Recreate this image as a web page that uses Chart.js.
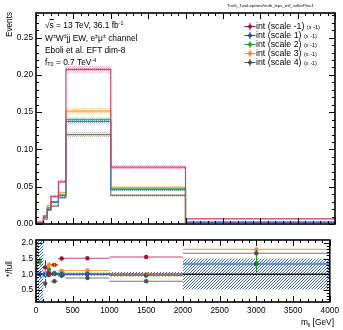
<!DOCTYPE html>
<html>
<head>
<meta charset="utf-8">
<script src="https://cdn.jsdelivr.net/npm/chart.js@4.4.1/dist/chart.umd.min.js"></script>
<style>
  html, body { margin: 0; padding: 0; background: #fff; }
  #wrap { position: relative; width: 343px; height: 330px; overflow: hidden;
          font-family: "Liberation Sans", Arial, Helvetica, sans-serif; color: #000; }
  #wrap canvas { position: absolute; left: 0; }
  #events { top: 0; }
  #ratio { top: 232px; }
  .txt { position: absolute; white-space: nowrap; line-height: 10px; }
  .txt sup, .txt sub { font-size: 64%; position: relative; vertical-align: baseline; line-height: 0; }
  .txt sup { top: -0.55em; }
  .txt sub { top: 0.35em; }
  .ovl { text-decoration: overline; }
  .leg { position: absolute; left: 244px; white-space: nowrap; font-size: 8.8px; line-height: 10px; }
  .leg svg { position: absolute; left: 0; top: 1px; }
  .leg span.t { position: absolute; left: 12px; top: 0; }
  .leg small { font-size: 5.6px; }
</style>
</head>
<body>
<div id="wrap">
  <canvas id="events" width="343" height="232"></canvas>
  <canvas id="ratio" width="343" height="98"></canvas>

  <div class="txt" style="left:45px;top:20px;font-size:8.4px;">√<span class="ovl">s</span> = 13 TeV, 36.1 fb<sup>-1</sup></div>
  <div class="txt" style="left:45px;top:32.5px;font-size:8.4px;">W<sup>±</sup>W<sup>±</sup>jj EW, e<sup>±</sup>μ<sup>±</sup> channel</div>
  <div class="txt" style="left:45px;top:44.5px;font-size:8.4px;">Eboli et al. EFT dim-8</div>
  <div class="txt" style="left:45px;top:56.5px;font-size:8.4px;">f<sub>T0</sub> = 0.7 TeV<sup>-4</sup></div>

  <div id="legend"></div>

  <div class="txt" style="left:5px;top:37px;font-size:8.2px;transform:rotate(-90deg);transform-origin:0 0;">Events</div>
  <div class="txt" style="left:5px;top:277px;font-size:8.2px;transform:rotate(-90deg);transform-origin:0 0;">*/full</div>
  <div class="txt" style="right:9px;top:317px;font-size:8.4px;">m<sub>ll</sub> [GeV]</div>
</div>

<script>
// ---- binning and axis ticks ----
const binEdges = [0, 100, 150, 200, 300, 400, 1000, 2000, 4000];
const binCenters = [50, 125, 175, 250, 350, 700, 1500, 3000];
const massTicks = [0, 500, 1000, 1500, 2000, 2500, 3000, 3500, 4000];
const eventsTicks = [0, 0.05, 0.10, 0.15, 0.20, 0.25];
const ratioTicks = [0.5, 1.0, 1.5, 2.0];

// ---- series labels and colours ----
const seriesNames = ['int (scale -1)', 'int (scale 1)', 'int (scale 2)', 'int (scale 3)', 'int (scale 4)'];
const seriesScaleNote = '(x -1)';
const markerColors = ['#a3103d', '#1f4cb3', '#2b9a2b', '#ff8a1c', '#505050'];
const lineColors = ['#c9457a', '#4a74cf', '#4fae4f', '#ffa345', '#7a7a72'];

// ---- events per bin (top panel) ----
const eventsScaleM1 = [0.0020, 0.0110, 0.0195, 0.0370, 0.0566, 0.2075, 0.0763, 0.0070];
const eventsScale1  = [0.0020, 0.0090, 0.0200, 0.0290, 0.0380, 0.1375, 0.0460, 0.0022];
const eventsScale2  = [0.0028, 0.0090, 0.0220, 0.0300, 0.0390, 0.1400, 0.0470, 0.0021];
const eventsScale3  = [0.0020, 0.0095, 0.0250, 0.0365, 0.0420, 0.1515, 0.0490, 0.0027];
const eventsScale4  = [0.0015, 0.0065, 0.0186, 0.0240, 0.0355, 0.1200, 0.0385, 0.0025];

// statistical uncertainty per bin
const errScaleM1 = [0.0008, 0.0012, 0.0016, 0.0020, 0.0024, 0.0042, 0.0024, 0.0009];
const errScale1  = [0.0007, 0.0010, 0.0014, 0.0017, 0.0020, 0.0036, 0.0020, 0.0007];
const errScale2  = [0.0007, 0.0010, 0.0014, 0.0017, 0.0020, 0.0036, 0.0020, 0.0007];
const errScale3  = [0.0007, 0.0010, 0.0015, 0.0018, 0.0021, 0.0037, 0.0021, 0.0007];
const errScale4  = [0.0006, 0.0009, 0.0013, 0.0016, 0.0019, 0.0034, 0.0019, 0.0007];

// ---- ratio to full (bottom panel) ----
const ratioScaleM1 = [null, 1.22, 1.03, 1.30, 1.50, 1.51, 1.55, null];
const ratioScale1  = [1.00, 1.00, 1.05, 1.02, 1.00, 1.00, 0.97, 1.32];
const ratioScale2  = [1.40, 0.98, 1.15, 1.04, 1.03, 1.03, 0.96, 1.35];
const ratioScale3  = [null, 1.05, 1.30, 1.30, 1.11, 1.12, 1.00, 1.79];
const ratioScale4  = [null, 0.71, 0.98, 0.78, 0.95, 0.88, 0.78, 1.67];

const ratioErrM1 = [0, 0.22, 0.08, 0.06, 0.04, 0.02, 0.03, 0];
const ratioErr1  = [0.10, 0.10, 0.07, 0.05, 0.03, 0.02, 0.03, 0.20];
const ratioErr2  = [0.10, 0.10, 0.07, 0.05, 0.03, 0.02, 0.03, 0.30];
const ratioErr3  = [0, 0.10, 0.08, 0.06, 0.03, 0.02, 0.03, 0.06];
const ratioErr4  = [0, 0.14, 0.07, 0.05, 0.03, 0.02, 0.03, 0.10];

// uncertainty band of the full sample
const fullBandLow  = [0.12, 0.92, 0.93, 0.93, 0.94, 0.95, 0.93, 0.52];
const fullBandHigh = [2.09, 1.08, 1.07, 1.07, 1.06, 1.05, 1.07, 1.50];

const eventsSeries = [eventsScaleM1, eventsScale1, eventsScale2, eventsScale3, eventsScale4];
const errSeries = [errScaleM1, errScale1, errScale2, errScale3, errScale4];
const ratioSeries = [ratioScaleM1, ratioScale1, ratioScale2, ratioScale3, ratioScale4];
const ratioErrSeries = [ratioErrM1, ratioErr1, ratioErr2, ratioErr3, ratioErr4];

const FONT = '"Liberation Sans", Arial, Helvetica, sans-serif';

// ---- helpers ----
function histPoints(vals, fromZero) {
  const pts = fromZero ? [{ x: binEdges[0], y: 0 }] : [];
  vals.forEach((v, i) => pts.push({ x: binEdges[i], y: v }));
  pts.push({ x: binEdges[binEdges.length - 1], y: vals[vals.length - 1] });
  return pts;
}

function binSegments(vals) {
  const pts = [];
  vals.forEach((v, i) => {
    if (v === null) return;
    pts.push({ x: binEdges[i], y: v }, { x: binEdges[i + 1], y: v }, { x: binEdges[i + 1], y: null });
  });
  return pts;
}

function dotPattern(hex, alphaA, alphaB) {
  const c = document.createElement('canvas');
  c.width = 2; c.height = 2;
  const g = c.getContext('2d');
  const r = parseInt(hex.slice(1, 3), 16), gg = parseInt(hex.slice(3, 5), 16), b = parseInt(hex.slice(5, 7), 16);
  g.fillStyle = `rgba(${r},${gg},${b},${alphaA})`;
  g.fillRect(0, 0, 1, 1);
  g.fillStyle = `rgba(${r},${gg},${b},${alphaB})`;
  g.fillRect(1, 1, 1, 1);
  return g.createPattern(c, 'repeat');
}

function hatchPattern(hex) {
  const c = document.createElement('canvas');
  c.width = 3; c.height = 3;
  const g = c.getContext('2d');
  g.fillStyle = 'rgba(255,255,255,0)';
  g.fillRect(0, 0, 3, 3);
  g.fillStyle = hex;
  g.fillRect(2, 0, 1, 1);
  g.fillRect(1, 1, 1, 1);
  g.fillRect(0, 2, 1, 1);
  return g.createPattern(c, 'repeat');
}

// frame with inward major/minor ticks on all four sides
const frameTicks = {
  id: 'frameTicks',
  afterDatasetsDraw(chart, args, o) {
    const { ctx, chartArea: a, scales: { x, y } } = chart;
    ctx.save();
    ctx.strokeStyle = '#000';
    ctx.lineWidth = 1;
    ctx.beginPath();
    const nx = Math.round((x.max - x.min) / o.xMinor);
    for (let i = 0; i <= nx; i++) {
      const v = x.min + i * o.xMinor;
      const major = Math.abs(v / o.xMajor - Math.round(v / o.xMajor)) < 1e-6;
      const len = major ? o.xMajorLen : o.xMinorLen;
      const px = Math.round(x.getPixelForValue(v)) + 0.5;
      ctx.moveTo(px, a.bottom); ctx.lineTo(px, a.bottom - len);
      ctx.moveTo(px, a.top); ctx.lineTo(px, a.top + len);
    }
    const y0 = Math.ceil(y.min / o.yMinor - 1e-6) * o.yMinor;
    for (let v = y0; v <= y.max + 1e-9; v += o.yMinor) {
      const major = Math.abs(v / o.yMajor - Math.round(v / o.yMajor)) < 1e-6;
      const len = major ? o.yMajorLen : o.yMinorLen;
      const py = Math.round(y.getPixelForValue(v)) + 0.5;
      ctx.moveTo(a.left, py); ctx.lineTo(a.left + len, py);
      ctx.moveTo(a.right, py); ctx.lineTo(a.right - len, py);
    }
    ctx.stroke();
    ctx.lineWidth = 1.6;
    ctx.strokeRect(a.left, a.top, a.right - a.left, a.bottom - a.top);
    if (o.title) {
      ctx.fillStyle = '#000';
      ctx.font = '4.3px ' + FONT;
      ctx.textAlign = 'left';
      ctx.textBaseline = 'middle';
      ctx.fillText(o.title, 227, 6);
    }
    ctx.restore();
  }
};

// vertical error bars on the ratio markers
const ratioErrorBars = {
  id: 'ratioErrorBars',
  afterDatasetsDraw(chart) {
    const { ctx, scales: { x, y } } = chart;
    ctx.save();
    chart.data.datasets.forEach(ds => {
      if (!ds.errs) return;
      ctx.strokeStyle = ds.borderColor;
      ctx.lineWidth = 1;
      ds.data.forEach((p, i) => {
        const e = ds.errs[i];
        if (!e) return;
        const px = Math.round(x.getPixelForValue(p.x)) + 0.5;
        ctx.beginPath();
        ctx.moveTo(px, y.getPixelForValue(p.y - e));
        ctx.lineTo(px, y.getPixelForValue(p.y + e));
        ctx.stroke();
      });
    });
    ctx.restore();
  }
};

Chart.defaults.font.family = FONT;
Chart.defaults.color = '#000';

// ---- top panel: event yields ----
const topSets = [];
eventsSeries.forEach((vals, s) => {
  const lo = vals.map((v, i) => v - errSeries[s][i]);
  const hi = vals.map((v, i) => v + errSeries[s][i]);
  topSets.push({
    data: histPoints(lo, false), stepped: true, borderWidth: 0, pointRadius: 0,
    fill: false, order: 20 + s
  });
  topSets.push({
    data: histPoints(hi, false), stepped: true, borderWidth: 0, pointRadius: 0,
    fill: '-1', backgroundColor: dotPattern(lineColors[s], 0.55, 0.3), order: 20 + s
  });
});
eventsSeries.forEach((vals, s) => {
  topSets.push({
    label: seriesNames[s], data: histPoints(vals, true), stepped: true,
    borderColor: lineColors[s], borderWidth: 1.2, pointRadius: 0, fill: false, order: 1 + s
  });
});

new Chart(document.getElementById('events'), {
  type: 'line',
  data: { datasets: topSets },
  options: {
    responsive: false, animation: false, devicePixelRatio: 1,
    layout: { padding: { left: 0, right: 8, top: 13, bottom: 4 } },
    plugins: {
      legend: { display: false }, tooltip: { enabled: false },
      frameTicks: { xMinor: 100, xMajor: 500, xMajorLen: 6, xMinorLen: 3,
                    yMinor: 0.01, yMajor: 0.05, yMajorLen: 6, yMinorLen: 3,
                    title: 'Truth_TwoLeptons/truth_leps_mll_sellerPlus1' }
    },
    scales: {
      x: { type: 'linear', min: 0, max: 4000, display: false },
      y: {
        type: 'linear', min: 0, max: 0.283,
        grid: { display: false, drawTicks: false }, border: { display: false },
        afterFit: s => { s.width = 36; },
        afterBuildTicks: s => { s.ticks = eventsTicks.map(v => ({ value: v })); },
        ticks: { padding: 3, font: { size: 8.3 }, callback: v => v.toFixed(2) }
      }
    }
  },
  plugins: [frameTicks]
});

// ---- bottom panel: ratio to full ----
const ratioSets = [
  { data: histPoints(fullBandLow, false), stepped: true, borderWidth: 0, pointRadius: 0, fill: false, order: 40 },
  { data: histPoints(fullBandHigh, false), stepped: true, borderWidth: 0, pointRadius: 0,
    fill: '-1', backgroundColor: hatchPattern('#3d68c2'), order: 40 },
  { data: [{ x: 0, y: 1 }, { x: 4000, y: 1 }], borderColor: '#1a1a1a', borderWidth: 1.6,
    pointRadius: 0, fill: false, order: 30 }
];
ratioSeries.forEach((vals, s) => {
  ratioSets.push({
    data: binSegments(vals), borderColor: lineColors[s], borderWidth: 1.1,
    pointRadius: 0, fill: false, spanGaps: false, order: 10 + s
  });
  const pts = [];
  const errs = [];
  vals.forEach((v, i) => {
    if (v === null) return;
    pts.push({ x: binCenters[i], y: v });
    errs.push(ratioErrSeries[s][i]);
  });
  ratioSets.push({
    data: pts, errs: errs, showLine: false, borderColor: markerColors[s],
    backgroundColor: markerColors[s], pointRadius: 2.2, pointBorderWidth: 0,
    pointStyle: 'circle', order: 1 + s
  });
});

new Chart(document.getElementById('ratio'), {
  type: 'line',
  data: { datasets: ratioSets },
  options: {
    responsive: false, animation: false, devicePixelRatio: 1,
    layout: { padding: { left: 0, right: 8, top: 3, bottom: 0 } },
    plugins: {
      legend: { display: false }, tooltip: { enabled: false },
      frameTicks: { xMinor: 100, xMajor: 500, xMajorLen: 6, xMinorLen: 3,
                    yMinor: 0.1, yMajor: 0.5, yMajorLen: 6, yMinorLen: 3 }
    },
    scales: {
      x: {
        type: 'linear', min: 0, max: 4000,
        grid: { display: false, drawTicks: false }, border: { display: false },
        afterFit: s => { s.height = 28; },
        afterBuildTicks: s => { s.ticks = massTicks.map(v => ({ value: v })); },
        ticks: { padding: 4, maxRotation: 0, font: { size: 8.3 }, callback: v => String(v) }
      },
      y: {
        type: 'linear', min: 0.12, max: 2.09,
        grid: { display: false, drawTicks: false }, border: { display: false },
        afterFit: s => { s.width = 36; },
        afterBuildTicks: s => { s.ticks = ratioTicks.map(v => ({ value: v })); },
        ticks: { padding: 3, font: { size: 8.3 }, callback: v => v.toFixed(1) }
      }
    }
  },
  plugins: [frameTicks, ratioErrorBars]
});

// ---- legend ----
const legend = document.getElementById('legend');
seriesNames.forEach((name, s) => {
  const row = document.createElement('div');
  row.className = 'leg';
  row.style.top = (21 + 9 * s) + 'px';
  const c = markerColors[s];
  row.innerHTML =
    `<svg width="12" height="9" viewBox="0 0 12 9">` +
    `<line x1="0.5" y1="4.5" x2="11.5" y2="4.5" stroke="${c}" stroke-width="1"/>` +
    `<line x1="6" y1="1" x2="6" y2="8" stroke="${c}" stroke-width="1"/>` +
    `<circle cx="6" cy="4.5" r="2" fill="${c}"/></svg>` +
    `<span class="t">${name} <small>${seriesScaleNote}</small></span>`;
  legend.appendChild(row);
});
</script>
</body>
</html>
